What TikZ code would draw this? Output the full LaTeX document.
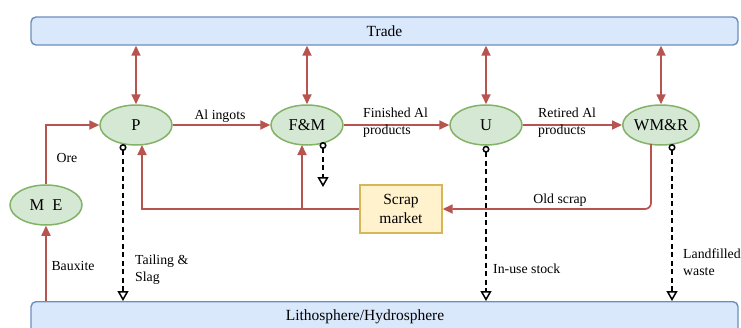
\documentclass[tikz,border=0pt]{standalone}
\usepackage{fontspec}
\setmainfont{Liberation Serif}
\usetikzlibrary{arrows.meta,calc,shapes.geometric}
\definecolor{flowred}{HTML}{B85450}
\definecolor{procfill}{HTML}{D5E8D4}
\definecolor{procdraw}{HTML}{82B366}
\definecolor{boxfill}{HTML}{DAE8FC}
\definecolor{boxdraw}{HTML}{6C8EBF}
\definecolor{scrapfill}{HTML}{FFF2CC}
\definecolor{scrapdraw}{HTML}{D6B656}
\tikzset{
  proc/.style={ellipse, draw=procdraw, fill=procfill, line width=1.5pt, minimum width=72pt, minimum height=40pt, inner sep=0pt, font=\fontsize{16.5}{18}\selectfont},
  bigbox/.style={rectangle, rounded corners=5pt, draw=boxdraw, fill=boxfill, line width=1.4pt, minimum width=707pt, minimum height=28pt, inner sep=0pt, font=\fontsize{15.5}{18}\selectfont},
  scrapbox/.style={rectangle, draw=scrapdraw, fill=scrapfill, line width=1.4pt, minimum width=82pt, minimum height=48pt, inner sep=0pt, align=center, font=\fontsize{15.5}{19}\selectfont},
  flow/.style={draw=flowred, line width=1.7pt, -{Triangle[length=10pt,width=9pt]}},
  trade/.style={draw=flowred, line width=1.7pt, {Triangle[length=10pt,width=9pt]}-{Triangle[length=10pt,width=9pt]}},
  loss/.style={draw=black, line width=1.5pt, dash pattern=on 5pt off 3.5pt, {Circle[open,length=7pt,width=7pt,fill=white]}-{Triangle[open,length=10pt,width=11pt,fill=white]}},
  lbl/.style={inner sep=0pt, align=left, font=\fontsize{13.8}{17}\selectfont}
}
\begin{document}
\begin{tikzpicture}[x=1pt,y=-1pt]
\clip (0,0) rectangle (741,327);
\fill[white] (0,0) rectangle (741,327);
% boxes
\node[bigbox] (trade) at (384.5,31) {Trade};
\node[bigbox, minimum height=40pt, anchor=north] (litho) at (384.5,301) {};
\node[font=\fontsize{15.5}{18}\selectfont, inner sep=0pt] (lithotxt) at (365,317) {Lithosphere/Hydrosphere};
% processes
\node[proc] (p) at (136,125) {P};
\node[proc] (fm) at (307,125) {F\&M};
\node[proc] (u) at (486,125) {U};
\node[proc] (wmr) at (661,125) {WM\&R};
\node[proc] (me) at (46,205) {M\enspace E};
\node[scrapbox] (scrap) at (401,209) {Scrap\\market};
% trade arrows
\foreach \n in {p,fm,u,wmr}{
  \draw[trade] (\n.north |- trade.south) -- (\n.north);
}
% main flows
\draw[flow] (me.north) |- (p.west);
\draw[flow] (me.south |- litho.north) -- (me.south);
\draw[flow] (p.east) -- (fm.west);
\draw[flow] (fm.east) -- (u.west);
\draw[flow] (u.east) -- (wmr.west);
\coordinate (wmrout) at ($(wmr.center)+(-10,19)$);
\draw[flow, rounded corners=6pt] (wmrout) |- (scrap.east);
\coordinate (pin) at ($(p.center)+(6,20)$);
\coordinate (fmin) at ($(fm.center)+(-5,20)$);
\draw[flow] (scrap.west) -| (pin);
\draw[flow] (fmin |- scrap.west) -- (fmin);
% losses
\coordinate (pout) at ($(p.center)+(-13,19)$);
\coordinate (fmout) at ($(fm.center)+(16,17)$);
\coordinate (wout) at ($(wmr.center)+(11,19)$);
\coordinate (fmend) at ($(fm.center)+(16,62)$);
\draw[loss] (pout) -- (pout |- litho.north);
\draw[loss] (fmout) -- (fmend);
\draw[loss] (u.south) -- (u.south |- litho.north);
\draw[loss] (wout) -- (wout |- litho.north);
% labels
\node[lbl] (lore) at (67,158) {Ore};
\node[lbl] (lbaux) at (73,266) {Bauxite};
\node[lbl, anchor=west] (ltail) at (135,270) {Tailing \&\\Slag};
\node[lbl] (lingot) at (220,116) {Al ingots};
\node[lbl, anchor=west] (lfin) at (363,123) {Finished Al\\products};
\node[lbl, anchor=west] (lret) at (538,123) {Retired Al\\products};
\node[lbl] (lold) at (560,200) {Old scrap};
\node[lbl, anchor=west] (luse) at (493,269) {In-use stock};
\node[lbl, anchor=west] (lland) at (683,262) {Landfilled\\waste};
\end{tikzpicture}
\end{document}
